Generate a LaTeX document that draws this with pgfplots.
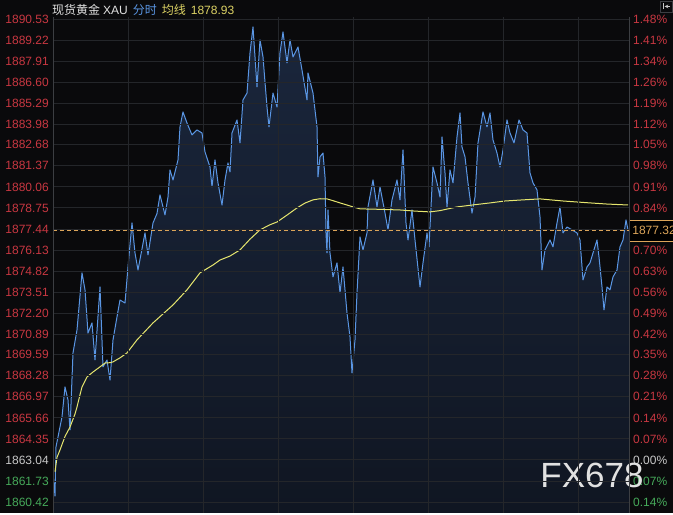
\documentclass[border=0pt]{standalone}
\usepackage{fontspec}
\setmainfont{Liberation Sans}
\newfontfamily\cjk{Noto Sans CJK SC}
\usepackage{pgfplots}
\pgfplotsset{compat=1.18}
\usepackage{pgfplotstable}
\usepgfplotslibrary{fillbetween}

\definecolor{bg}{RGB}{10,10,12}
\definecolor{grd}{RGB}{36,38,42}
\definecolor{frame}{RGB}{60,62,66}
\definecolor{rd}{RGB}{200,55,65}
\definecolor{gn}{RGB}{70,170,90}
\definecolor{gy}{RGB}{200,200,200}
\definecolor{wt}{RGB}{225,225,225}
\definecolor{bl}{RGB}{90,150,228}
\definecolor{yl}{RGB}{230,230,110}
\definecolor{ytxt}{RGB}{220,210,100}
\definecolor{og}{RGB}{220,165,90}
\definecolor{filltop}{RGB}{26,38,60}
\definecolor{fillbot}{RGB}{16,22,34}

% spot gold, intraday price
\pgfplotstableread{
x p
53 1862.10
54 1861.60
55 1860.79
56 1863.85
58 1864.47
62 1865.72
65 1867.59
68 1866.78
70 1864.91
73 1869.71
77 1871.14
82 1874.70
85 1873.64
88 1870.95
92 1871.58
95 1869.27
100 1873.82
103 1868.84
107 1869.27
110 1868.02
113 1870.52
116 1871.60
120 1873.01
125 1872.82
128 1875.07
132 1877.81
135 1875.94
138 1874.88
142 1876.20
145 1877.19
148 1875.82
153 1877.81
157 1878.40
160 1879.56
165 1878.31
168 1879.43
170 1881.12
173 1880.49
178 1881.74
180 1883.80
183 1884.73
187 1884.04
192 1883.30
197 1883.61
202 1883.42
205 1882.24
210 1881.30
212 1880.06
215 1881.74
218 1880.31
222 1878.93
225 1880.49
228 1881.55
230 1880.99
232 1883.42
237 1884.23
240 1882.80
243 1885.48
247 1885.91
250 1888.41
253 1890.03
257 1886.29
260 1889.22
263 1888.16
267 1885.04
269 1883.80
273 1885.91
277 1885.04
280 1888.41
283 1889.72
287 1887.79
290 1889.22
293 1888.16
298 1888.78
302 1887.35
307 1885.48
308 1887.16
313 1885.91
317 1883.80
318 1880.68
320 1881.93
323 1882.17
325 1880.68
326 1877.19
327 1875.94
328 1878.62
330 1875.94
333 1874.45
337 1875.32
340 1873.45
343 1875.07
347 1872.20
350 1870.71
352 1868.46
355 1870.52
357 1873.45
360 1876.94
363 1876.13
367 1877.19
368 1878.81
373 1880.49
377 1878.81
380 1880.06
385 1878.43
388 1877.38
392 1879.25
397 1880.49
400 1879.25
403 1882.36
406 1877.81
408 1876.75
412 1878.62
415 1876.75
420 1873.82
423 1875.32
427 1877.19
429 1876.32
433 1881.30
437 1880.31
440 1879.43
442 1883.17
445 1880.93
447 1878.81
450 1881.12
453 1880.31
457 1883.17
460 1884.67
462 1882.55
465 1881.93
468 1880.31
472 1878.43
475 1879.43
478 1882.80
483 1884.73
487 1883.80
490 1884.67
493 1882.99
497 1882.17
500 1881.30
503 1882.36
507 1884.23
510 1883.42
514 1882.80
519 1884.23
523 1883.61
527 1883.42
530 1880.93
533 1880.31
537 1879.87
540 1878.19
542 1874.88
545 1876.13
550 1876.75
553 1876.32
557 1877.81
560 1878.81
563 1877.19
567 1877.56
572 1877.38
577 1877.19
580 1876.75
583 1874.26
587 1875.07
590 1875.32
593 1875.94
597 1876.75
599 1875.69
602 1873.82
604 1872.39
607 1873.82
610 1873.64
613 1874.45
617 1874.88
620 1876.32
623 1876.75
626 1878.00
628 1877.38
629 1877.32
}\pricedata

% average line
\pgfplotstableread{
x p
55 1862.30
57 1863.20
60 1863.66
65 1864.50
70 1865.09
75 1865.90
77 1866.34
80 1867.10
82 1867.59
87 1868.21
93 1868.52
100 1868.84
105 1869.08
110 1869.10
113 1869.15
120 1869.40
127 1869.71
137 1870.52
153 1871.58
173 1872.70
187 1873.64
200 1874.70
213 1875.19
220 1875.50
230 1875.75
240 1876.13
250 1876.80
260 1877.38
270 1877.70
277 1877.87
287 1878.30
297 1878.75
305 1879.05
313 1879.25
320 1879.32
327 1879.31
333 1879.20
340 1879.06
347 1878.93
353 1878.81
360 1878.69
380 1878.66
400 1878.62
415 1878.55
430 1878.50
440 1878.58
457 1878.81
475 1878.95
490 1879.06
505 1879.18
523 1879.25
540 1879.31
563 1879.18
590 1879.06
607 1878.99
628 1878.93
}\avgdata

\pgfplotsset{
  chartbase/.style={
    at={(53,0)}, anchor=south west, scale only axis,
    width=576pt, height=496pt,
    xmin=53, xmax=629, ymin=1859.73, ymax=1890.65,
    major tick length=0pt,
    ytick={1860.42,1861.73,1863.04,1864.35,1865.66,1866.97,1868.28,1869.59,
      1870.89,1872.20,1873.51,1874.82,1876.13,1877.44,1878.75,1880.06,1881.37,
      1882.68,1883.98,1885.29,1886.60,1887.91,1889.22,1890.53},
    tick label style={font=\fontsize{12}{14}\selectfont, text=rd, inner sep=0pt},
  }
}

\begin{document}
\begin{tikzpicture}[x=1pt,y=1pt]
\fill[bg] (0,0) rectangle (673,513);

% right percentage scale
\begin{axis}[chartbase,
  xtick=\empty, axis line style={draw=none},
  yticklabel pos=right,
  yticklabel style={anchor=west, xshift=4pt},
  yticklabels={\textcolor{gn}{0.14\%},\textcolor{gn}{0.07\%},\textcolor{gy}{0.00\%},
    0.07\%,0.14\%,0.21\%,0.28\%,0.35\%,0.42\%,0.49\%,0.56\%,0.63\%,0.70\%,
    0.77\%,0.84\%,0.91\%,0.98\%,1.05\%,1.12\%,1.19\%,1.26\%,1.34\%,1.41\%,1.48\%},
]
\addplot[draw=none] coordinates {(53,1863.04) (629,1890.53)};
\end{axis}

\begin{axis}[chartbase, axis on top, clip mode=individual,
  fill between/on layer=main,
  xtick={128,203,278,353,428,503,578}, xticklabels={},
  xmajorgrids, ymajorgrids,
  grid style={draw=grd, line width=0.8pt},
  separate axis lines,
  x axis line style={draw=none},
  y axis line style={draw=frame, line width=0.8pt},
  yticklabel style={anchor=east, xshift=-4pt},
  yticklabels={\textcolor{gn}{1860.42},\textcolor{gn}{1861.73},\textcolor{gy}{1863.04},
    1864.35,1865.66,1866.97,1868.28,1869.59,1870.89,1872.20,1873.51,1874.82,
    1876.13,1877.44,1878.75,1880.06,1881.37,1882.68,1883.98,1885.29,1886.60,
    1887.91,1889.22,1890.53},
]
\addplot[draw=none, name path=price] table[x=x, y=p] {\pricedata};
\addplot[draw=none, name path=base] coordinates {(53,1859.73) (629,1859.73)};
\addplot[top color=filltop, bottom color=fillbot, draw=none] fill between[of=price and base];
\addplot[bl, line width=1pt, line join=round] table[x=x, y=p] {\pricedata};
\addplot[yl, line width=1pt] table[x=x, y=p] {\avgdata};
\addplot[og, line width=0.8pt, dash pattern=on 4pt off 3pt] coordinates {(53,1877.32) (629,1877.32)};
\node[overlay, anchor=west, draw=og, fill=black, text=og, line width=0.8pt,
  font=\fontsize{12}{14}\selectfont, inner xsep=3pt, minimum height=21pt]
  at (axis cs:629,1877.32) {1877.32};
\node[text=wt, font=\fontsize{35}{35}\selectfont] at (axis cs:592,1862.05) {FX678};
\end{axis}

% header
\node[anchor=west, inner sep=0pt, font=\fontsize{12}{14}\selectfont] at (52,503)
  {{\cjk\color{wt}现货黄金}\hspace{3pt}{\color{wt}XAU}\hspace{5pt}{\cjk\color{bl}分时}\hspace{5pt}{\cjk\color{ytxt}均线}\hspace{5pt}{\color{ytxt}1878.93}};
\draw[frame, line width=0.8pt] (660,501) rectangle (672,512);
\draw[gy, line width=0.7pt] (663,503.5) -- (663,509.5);
\draw[gy, line width=0.7pt, ->, >=stealth] (670,506.5) -- (664.5,506.5);
\end{tikzpicture}
\end{document}
